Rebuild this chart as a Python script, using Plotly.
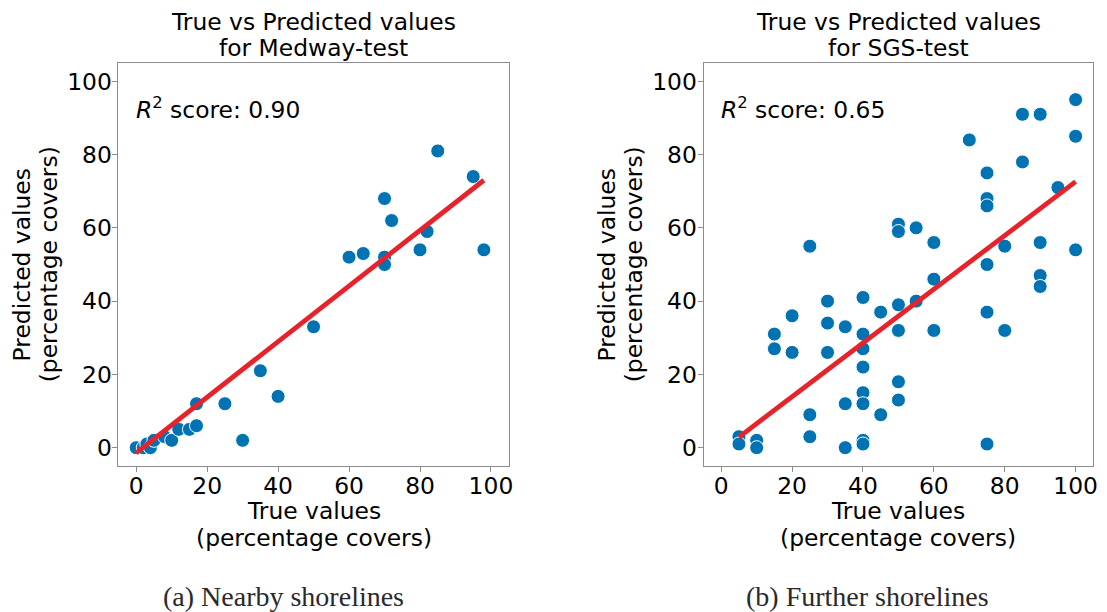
import plotly.graph_objects as go

# Medway-test: true vs predicted percentage covers
true_a = [0, 2, 3, 4, 5, 8, 10, 12, 15, 17, 17, 25, 30, 35, 40, 50, 60, 64,
          70, 70, 70, 72, 80, 82, 85, 95, 98]
pred_a = [0, 0, 1, 0, 2, 3, 2, 5, 5, 6, 12, 12, 2, 21, 14, 33, 52, 53,
          68, 52, 50, 62, 54, 59, 81, 74, 54]
# fitted regression line for Medway-test (end points)
fit_x_a = [0, 98]
fit_y_a = [-1.4, 73.0]

# SGS-test: true vs predicted percentage covers
true_b = [5, 5, 10, 10, 15, 15, 20, 20, 25, 25, 25, 30, 30, 30, 35, 35, 35,
          40, 40, 40, 40, 40, 40, 40, 40, 45, 45, 50, 50, 50, 50, 50, 50,
          55, 55, 60, 60, 60, 70, 75, 75, 75, 75, 75, 75, 80, 80, 85, 85,
          90, 90, 90, 90, 95, 100, 100, 100]
pred_b = [3, 1, 2, 0, 31, 27, 36, 26, 55, 9, 3, 40, 34, 26, 33, 12, 0,
          41, 31, 27, 22, 15, 12, 2, 1, 37, 9, 61, 59, 39, 32, 18, 13,
          60, 40, 56, 46, 32, 84, 75, 68, 66, 50, 37, 1, 55, 32, 91, 78,
          91, 56, 47, 44, 71, 95, 85, 54]
# fitted regression line for SGS-test (end points)
fit_x_b = [5, 100]
fit_y_b = [2.9, 72.6]

title_lines = [["True vs Predicted values", "for Medway-test"],
               ["True vs Predicted values", "for SGS-test"]]
xlabel_lines = ["True values", "(percentage covers)"]
ylabel_lines = ["Predicted values", "(percentage covers)"]
r2_labels = ["0.90", "0.65"]
captions = ["(a) Nearby shorelines", "(b) Further shorelines"]
tick_vals = [0, 20, 40, 60, 80, 100]

DOT = "#0173b2"
LINE = "#e8222b"
FRAME = "#8c8c8c"
SANS = "DejaVu Sans"
FS = 23.4

W, H = 1107, 612
x_domains = [[119 / W, 511 / W], [706.7 / W, 1098.3 / W]]
y_domain = [1 - 466 / H, 1 - 63 / H]
caption_x = [285 / W, 871 / W]


def text(s, x, y, xref="paper", yref="paper", angle=0, xanchor="center",
         family=SANS, size=FS, color="black"):
    return dict(text=s, x=x, y=y, xref=xref, yref=yref, textangle=angle,
                xanchor=xanchor, yanchor="middle", showarrow=False,
                font=dict(family=family, size=size, color=color))


fig = go.Figure()
annotations = []

panels = [(true_a, pred_a, fit_x_a, fit_y_a), (true_b, pred_b, fit_x_b, fit_y_b)]
for i, (xs, ys, fx, fy) in enumerate(panels):
    ref = "" if i == 0 else "2"
    fig.add_trace(go.Scatter(
        x=xs, y=ys, mode="markers", xaxis="x" + ref, yaxis="y" + ref,
        marker=dict(size=14, color=DOT, line=dict(color="white", width=1)),
        showlegend=False))
    fig.add_trace(go.Scatter(
        x=fx, y=fy, mode="lines", xaxis="x" + ref, yaxis="y" + ref,
        line=dict(color=LINE, width=4.8), showlegend=False))

    x0, x1 = x_domains[i]
    xc = (x0 + x1) / 2
    # two-line title
    annotations.append(text(title_lines[i][0], xc, 1 - 22 / H))
    annotations.append(text(title_lines[i][1], xc, 1 - 48 / H))
    # R^2 score inside the axes
    annotations.append(text(f"<i>R</i><sup>2</sup> score: {r2_labels[i]}",
                            0.04, 0.888, xref=f"x{ref} domain",
                            yref=f"y{ref} domain", xanchor="left"))
    # x-axis label
    annotations.append(text(xlabel_lines[0], xc, 1 - 511 / H))
    annotations.append(text(xlabel_lines[1], xc, 1 - 538 / H))
    # y-axis label (rotated)
    yc = (y_domain[0] + y_domain[1]) / 2
    annotations.append(text(ylabel_lines[0], x0 - 97 / W, yc, angle=-90))
    annotations.append(text(ylabel_lines[1], x0 - 70 / W, yc, angle=-90))
    # panel caption
    annotations.append(text(captions[i], caption_x[i], 1 - 596 / H,
                            family="Liberation Serif", size=28,
                            color="#2a2a2a"))

axis_common = dict(
    range=[-5, 105], tickvals=tick_vals, showgrid=False, zeroline=False,
    showline=True, linecolor=FRAME, linewidth=1, mirror=True,
    ticks="outside", ticklen=5, tickcolor=FRAME,
    tickfont=dict(family=SANS, size=FS, color="black"))
x_axis = dict(axis_common, ticklabelstandoff=-6)
y_axis = dict(axis_common, ticklabelstandoff=-4)

fig.update_layout(
    width=W, height=H, margin=dict(l=0, r=0, t=0, b=0),
    paper_bgcolor="white", plot_bgcolor="white",
    xaxis=dict(domain=x_domains[0], anchor="y", **x_axis),
    yaxis=dict(domain=y_domain, anchor="x", **y_axis),
    xaxis2=dict(domain=x_domains[1], anchor="y2", **x_axis),
    yaxis2=dict(domain=y_domain, anchor="x2", **y_axis),
    annotations=annotations)

fig.write_html("out.html", config={"displayModeBar": False})
